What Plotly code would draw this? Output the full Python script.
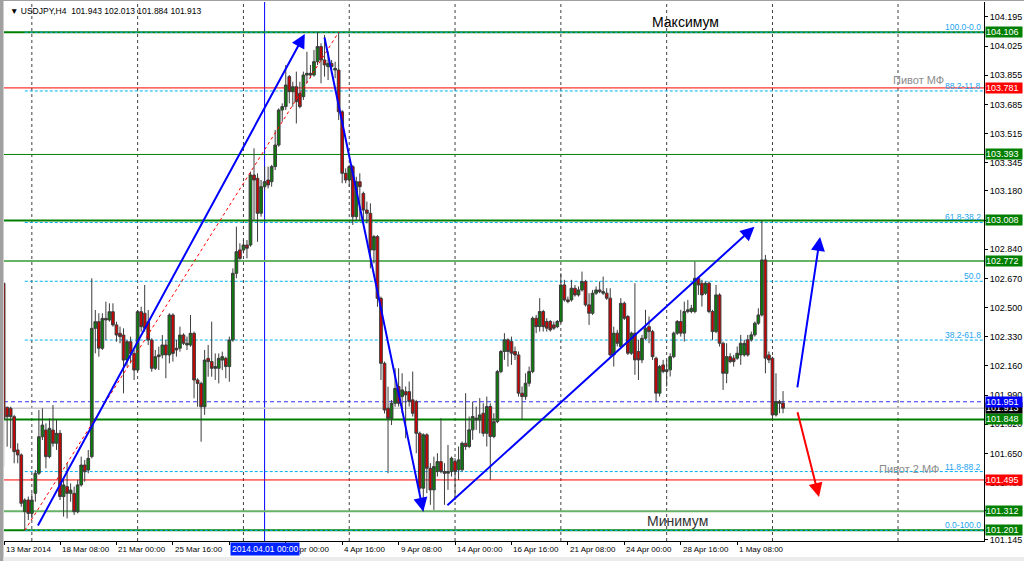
import plotly.graph_objects as go

# ---------------- data (USDJPY, H4 bars) ----------------
opens = [102.642, 101.919, 101.913, 101.864, 101.670, 101.641, 101.310, 101.378, 101.300, 101.417,
         101.534, 101.747, 101.786, 101.631, 101.786, 101.709, 101.767, 101.398, 101.456, 101.417,
         101.417, 101.310, 101.466, 101.582, 101.553, 101.631, 102.379, 102.418, 102.263, 102.437,
         102.428, 102.476, 102.399, 102.350, 102.340, 102.194, 102.301, 102.233, 102.136, 102.476,
         102.467, 102.418, 102.311, 102.146, 102.214, 102.224, 102.282, 102.224, 102.457, 102.263,
         102.263, 102.340, 102.282, 102.282, 102.350, 102.078, 102.058, 101.922, 102.204, 102.185,
         102.146, 102.146, 102.194, 102.204, 102.156, 102.311, 102.700, 102.836, 102.836, 102.865,
         102.865, 103.273, 103.254, 103.050, 103.205, 103.244, 103.234, 103.322, 103.448, 103.652,
         103.672, 103.847, 103.759, 103.788, 103.749, 103.730, 103.856, 103.866, 103.856, 103.934,
         104.022, 103.944, 103.905, 103.924, 103.885, 103.885, 103.642, 103.283, 103.244, 103.322,
         103.030, 103.234, 103.166, 103.069, 103.050, 102.836, 102.914, 102.554, 102.175, 101.913,
         101.854, 101.942, 102.040, 101.981, 102.010, 102.010, 101.962, 101.952, 101.767, 101.447,
         101.758, 101.563, 101.437, 101.544, 101.602, 101.544, 101.534, 101.544, 101.602, 101.554,
         101.554, 101.709, 101.690, 101.787, 101.845, 101.845, 101.884, 101.767, 101.923, 101.748,
         101.835, 102.127, 102.244, 102.312, 102.302, 102.244, 102.224, 102.001, 101.981, 102.059,
         102.127, 102.438, 102.389, 102.477, 102.419, 102.419, 102.399, 102.389, 102.419, 102.632,
         102.545, 102.545, 102.613, 102.574, 102.603, 102.652, 102.516, 102.467, 102.584, 102.603,
         102.584, 102.584, 102.555, 102.224, 102.351, 102.273, 102.525, 102.448, 102.234, 102.351,
         102.244, 102.195, 102.321, 102.389, 102.360, 102.205, 102.001, 102.166, 102.127, 102.137,
         102.214, 102.351, 102.419, 102.351, 102.477, 102.477, 102.477, 102.671, 102.642, 102.584,
         102.642, 102.477, 102.360, 102.574, 102.292, 102.117, 102.214, 102.205, 102.205, 102.224,
         102.224, 102.312, 102.312, 102.341, 102.409, 102.457, 102.778, 102.224, 102.205, 101.874,
         101.952, 101.943]
highs = [102.651, 101.922, 101.922, 101.874, 101.709, 101.650, 101.388, 101.398, 101.417, 101.553,
         101.903, 101.913, 101.825, 101.854, 101.932, 101.845, 101.786, 101.495, 101.592, 101.475,
         101.456, 101.495, 101.631, 101.611, 101.670, 102.671, 102.486, 102.467, 102.467, 102.535,
         102.525, 102.525, 102.418, 102.389, 102.379, 102.311, 102.331, 102.253, 102.486, 102.505,
         102.632, 102.486, 102.321, 102.253, 102.272, 102.340, 102.311, 102.467, 102.467, 102.311,
         102.389, 102.350, 102.331, 102.457, 102.360, 102.088, 102.068, 102.253, 102.282, 102.418,
         102.233, 102.233, 102.243, 102.214, 102.331, 102.729, 102.972, 102.875, 102.894, 102.894,
         103.293, 103.429, 103.283, 103.244, 103.322, 103.322, 103.332, 103.536, 103.662, 103.691,
         103.915, 103.856, 103.817, 103.876, 103.817, 103.876, 103.992, 103.915, 104.002, 104.106,
         104.041, 104.090, 103.992, 103.944, 103.934, 104.106, 103.652, 103.312, 103.332, 103.332,
         103.263, 103.283, 103.176, 103.118, 103.108, 102.923, 102.923, 102.564, 102.185, 102.039,
         101.961, 102.146, 102.146, 102.117, 102.040, 102.069, 102.127, 101.962, 101.777, 101.767,
         101.767, 101.593, 101.631, 101.651, 101.855, 101.593, 101.699, 101.631, 101.622, 101.690,
         101.719, 102.001, 101.865, 101.952, 101.923, 101.972, 101.942, 101.981, 101.942, 101.884,
         102.137, 102.253, 102.351, 102.321, 102.331, 102.273, 102.244, 102.040, 102.117, 102.156,
         102.448, 102.457, 102.555, 102.487, 102.438, 102.428, 102.419, 102.428, 102.700, 102.662,
         102.564, 102.662, 102.632, 102.623, 102.710, 102.662, 102.584, 102.603, 102.623, 102.652,
         102.681, 102.613, 102.613, 102.389, 102.370, 102.555, 102.535, 102.457, 102.360, 102.642,
         102.312, 102.341, 102.487, 102.448, 102.370, 102.214, 102.166, 102.195, 102.195, 102.234,
         102.360, 102.428, 102.487, 102.535, 102.545, 102.516, 102.768, 102.681, 102.662, 102.652,
         102.652, 102.487, 102.632, 102.584, 102.302, 102.292, 102.234, 102.224, 102.273, 102.341,
         102.312, 102.341, 102.360, 102.419, 102.496, 103.008, 102.807, 102.244, 102.214, 102.117,
         101.962, 102.013]
lows = [101.573, 101.689, 101.679, 101.592, 101.592, 101.339, 101.201, 101.262, 101.271, 101.368,
        101.524, 101.728, 101.563, 101.621, 101.689, 101.670, 101.378, 101.281, 101.271, 101.368,
        101.291, 101.300, 101.456, 101.485, 101.534, 101.621, 102.233, 102.214, 102.253, 102.311,
        102.418, 102.389, 102.301, 102.292, 102.000, 102.156, 102.175, 102.078, 102.126, 102.360,
        102.360, 102.282, 102.126, 102.136, 102.136, 102.204, 102.088, 102.175, 102.185, 102.214,
        102.243, 102.282, 102.253, 102.272, 101.971, 101.922, 101.718, 101.874, 102.097, 102.097,
        102.078, 102.058, 102.136, 102.088, 102.068, 102.301, 102.671, 102.778, 102.816, 102.787,
        102.855, 103.011, 102.884, 103.030, 103.186, 103.195, 103.205, 103.302, 103.438, 103.584,
        103.652, 103.691, 103.672, 103.574, 103.662, 103.711, 103.808, 103.837, 103.847, 103.915,
        103.808, 103.847, 103.827, 103.885, 103.837, 103.594, 103.225, 103.225, 103.205, 102.982,
        103.011, 103.011, 103.011, 102.991, 102.729, 102.758, 102.505, 102.078, 101.883, 101.534,
        101.815, 101.922, 101.923, 101.884, 101.738, 101.923, 101.865, 101.651, 101.418, 101.312,
        101.418, 101.350, 101.320, 101.515, 101.534, 101.350, 101.437, 101.515, 101.379, 101.495,
        101.544, 101.670, 101.680, 101.729, 101.787, 101.767, 101.748, 101.690, 101.495, 101.738,
        101.826, 102.117, 102.195, 102.156, 102.166, 102.195, 101.981, 101.845, 101.962, 102.040,
        102.117, 102.351, 102.360, 102.360, 102.360, 102.360, 102.370, 102.380, 102.409, 102.535,
        102.525, 102.535, 102.564, 102.564, 102.593, 102.506, 102.399, 102.457, 102.574, 102.584,
        102.574, 102.545, 102.214, 102.156, 102.273, 102.263, 102.428, 102.224, 102.224, 102.108,
        102.078, 102.176, 102.312, 102.292, 102.195, 101.952, 101.981, 102.117, 102.040, 102.098,
        102.205, 102.341, 102.331, 102.302, 102.467, 102.467, 102.467, 102.574, 102.506, 102.574,
        102.467, 102.312, 102.351, 102.273, 102.020, 102.059, 102.176, 102.156, 102.195, 102.166,
        102.214, 102.214, 102.302, 102.331, 102.399, 102.448, 102.117, 102.176, 101.845, 101.865,
        101.884, 101.884]
closes = [101.854, 101.864, 101.864, 101.660, 101.641, 101.359, 101.378, 101.300, 101.378, 101.534,
          101.747, 101.815, 101.631, 101.796, 101.709, 101.767, 101.398, 101.466, 101.417, 101.436,
          101.310, 101.466, 101.582, 101.543, 101.621, 102.379, 102.418, 102.263, 102.437, 102.428,
          102.476, 102.399, 102.340, 102.331, 102.194, 102.301, 102.233, 102.136, 102.476, 102.389,
          102.379, 102.311, 102.146, 102.214, 102.224, 102.282, 102.224, 102.457, 102.233, 102.253,
          102.340, 102.292, 102.292, 102.350, 102.078, 102.058, 101.922, 102.194, 102.185, 102.146,
          102.156, 102.204, 102.214, 102.156, 102.311, 102.700, 102.826, 102.787, 102.865, 102.846,
          103.273, 103.244, 103.050, 103.205, 103.234, 103.215, 103.322, 103.448, 103.652, 103.672,
          103.798, 103.759, 103.788, 103.701, 103.672, 103.856, 103.866, 103.856, 103.934, 104.022,
          103.944, 103.915, 103.924, 103.905, 103.895, 103.642, 103.283, 103.244, 103.322, 103.030,
          103.234, 103.205, 103.069, 103.050, 102.836, 102.914, 102.554, 102.175, 101.903, 101.854,
          101.942, 102.029, 101.942, 102.020, 101.991, 101.952, 101.884, 101.767, 101.447, 101.758,
          101.563, 101.437, 101.573, 101.602, 101.544, 101.534, 101.544, 101.622, 101.544, 101.612,
          101.709, 101.690, 101.787, 101.865, 101.855, 101.874, 101.767, 101.923, 101.748, 101.835,
          102.127, 102.244, 102.312, 102.244, 102.234, 102.224, 102.001, 101.981, 102.059, 102.127,
          102.438, 102.389, 102.477, 102.389, 102.380, 102.370, 102.380, 102.419, 102.632, 102.545,
          102.535, 102.613, 102.574, 102.603, 102.652, 102.516, 102.467, 102.584, 102.603, 102.593,
          102.593, 102.555, 102.224, 102.351, 102.292, 102.525, 102.438, 102.234, 102.351, 102.195,
          102.195, 102.321, 102.380, 102.360, 102.214, 102.001, 102.156, 102.127, 102.137, 102.214,
          102.351, 102.419, 102.351, 102.477, 102.487, 102.496, 102.671, 102.632, 102.574, 102.642,
          102.477, 102.360, 102.574, 102.292, 102.117, 102.214, 102.185, 102.185, 102.234, 102.292,
          102.292, 102.224, 102.341, 102.409, 102.457, 102.778, 102.205, 102.195, 101.874, 101.952,
          101.942, 101.913]

# time-axis labels (bar index -> text)
time_label_bars = [0.2, 16, 32, 48, 64, 80, 96, 112, 128, 144, 160, 176, 192, 208]
time_labels = ["13 Mar 2014", "18 Mar 08:00", "21 Mar 00:00", "25 Mar 16:00", "28 Mar 08:00",
               "2 Apr 00:00", "4 Apr 16:00", "9 Apr 08:00", "14 Apr 00:00", "16 Apr 16:00",
               "21 Apr 08:00", "24 Apr 00:00", "28 Apr 16:00", "1 May 08:00"]
grid_bars = [8, 38, 68, 98, 128, 158, 188, 218, 253.6]
selected_bar = 74
selected_label = "2014.04.01 00:00"

# price-axis labels
price_ticks = ["104.195", "104.025", "103.855", "103.685", "103.515", "103.345", "103.180",
               "103.010", "102.840", "102.670", "102.500", "102.330", "102.160", "101.990",
               "101.820", "101.650", "101.480", "101.315", "101.145"]

# horizontal level lines
levels_green_thick = [104.106, 103.008, 101.848, 101.201]
levels_green_thin = [103.393]
levels_green_light = [102.772, 101.312]
levels_red = [103.781, 101.495]
level_blue_dashed = 101.951
bid_price = 101.913

# fibonacci retracement (low bar / high bar)
fib_low_bar, fib_low = 6, 101.201
fib_high_bar, fib_high = 95, 104.106
fib_ratios = [0.0, 0.118, 0.382, 0.5, 0.618, 0.882, 1.0]
fib_texts = ["0.0-100.0", "11.8-88.2", "38.2-61.8", "50.0", "61.8-38.2", "88.2-11.8", "100.0-0.0"]

# trend arrows: (tail bar, tail price, tip bar, tip price, colour)
arrows = [
    (9.5, 101.221, 85.4, 104.096, "#0000ff"),
    (90.9, 104.084, 119.0, 101.310, "#0000ff"),
    (125.4, 101.339, 212.9, 102.972, "#0000ff"),
    (225.0, 102.026, 231.5, 102.912, "#0000ff"),
    (225.0, 101.898, 231.2, 101.396, "#ff0000"),
]

# text labels: (bar, price, text, size, colour)
texts = [
    (193.2, 104.166, "Максимум", 14, "#000000"),
    (191.1, 101.256, "Минимум", 14, "#333333"),
    (259.3, 103.828, "Пивот МФ", 11, "#8c8c8c"),
    (256.7, 101.559, "Пивот 2 МФ", 11, "#8c8c8c"),
]

# right-hand price boxes (price, background)
price_boxes = [(104.106, "#008000"), (103.781, "#ff0000"), (103.393, "#008000"),
               (103.008, "#008000"), (102.772, "#008000"), (101.848, "#008000"),
               (101.495, "#ff0000"), (101.312, "#008000"), (101.201, "#008000"),
               (101.913, "#000000"), (101.951, "#0000ff")]

header = "USDJPY,H4  101.943 102.013 101.884 101.913"

# ---------------- figure ----------------
FONT = "Liberation Sans, Arial, sans-serif"
bars = list(range(len(opens)))

fig = go.Figure()
fig.add_trace(go.Candlestick(
    x=bars, open=opens, high=highs, low=lows, close=closes,
    increasing=dict(fillcolor="#0a7d0a", line=dict(color="#3c3c3c", width=1)),
    decreasing=dict(fillcolor="#d00000", line=dict(color="#3c3c3c", width=1)),
    whiskerwidth=0, showlegend=False, hoverinfo="skip"))

shapes = []
# grid
for gb in grid_bars:
    shapes.append(dict(type="line", xref="x", yref="paper", x0=gb, x1=gb, y0=0, y1=1,
                       line=dict(color="#404040", width=1, dash="dot"), layer="below"))
# vertical line at selected time
shapes.append(dict(type="line", xref="x", yref="paper", x0=selected_bar, x1=selected_bar,
                   y0=0, y1=1, line=dict(color="#0000ff", width=1), layer="below"))
# fibonacci levels
for r in fib_ratios:
    lv = fib_low + r * (fib_high - fib_low)
    shapes.append(dict(type="line", xref="x", yref="y", x0=fib_low_bar, x1=400, y0=lv, y1=lv,
                       line=dict(color="#00b0f0", width=1, dash="3px,2px"), layer="below"))
for lv in levels_green_thick:
    shapes.append(dict(type="line", xref="paper", yref="y", x0=0, x1=1, y0=lv, y1=lv,
                       line=dict(color="#008000", width=2), layer="below"))
for lv in levels_green_thin:
    shapes.append(dict(type="line", xref="paper", yref="y", x0=0, x1=1, y0=lv, y1=lv,
                       line=dict(color="#008000", width=1), layer="below"))
for lv in levels_green_light:
    shapes.append(dict(type="line", xref="paper", yref="y", x0=0, x1=1, y0=lv, y1=lv,
                       line=dict(color="#66b266", width=2), layer="below"))
for lv in levels_red:
    shapes.append(dict(type="line", xref="paper", yref="y", x0=0, x1=1, y0=lv, y1=lv,
                       line=dict(color="#ff0000", width=1), layer="below"))
shapes.append(dict(type="line", xref="paper", yref="y", x0=0, x1=1, y0=level_blue_dashed,
                   y1=level_blue_dashed, line=dict(color="#3030ff", width=1, dash="4px,3px"),
                   layer="below"))
shapes.append(dict(type="line", xref="paper", yref="y", x0=0, x1=1, y0=bid_price, y1=bid_price,
                   line=dict(color="#c8c8c8", width=1.5), layer="below"))
# fib diagonal
shapes.append(dict(type="line", xref="x", yref="y", x0=fib_low_bar, y0=fib_low,
                   x1=fib_high_bar, y1=fib_high, line=dict(color="#ff0000", width=1, dash="dot"),
                   layer="above"))
# window borders
shapes.append(dict(type="rect", xref="paper", yref="paper", x0=-4 / 980, x1=-0.5 / 980,
                   y0=-20 / 539, y1=1 + 2 / 539, fillcolor="#a0a0a0", line=dict(width=0)))
shapes.append(dict(type="line", xref="paper", yref="paper", x0=-4 / 980, x1=1 + 40 / 980,
                   y0=1 + 1.5 / 539, y1=1 + 1.5 / 539, line=dict(color="#a0a0a0", width=1)))
shapes.append(dict(type="rect", xref="paper", yref="paper", x0=-0.5 / 980, x1=1 + 40 / 980,
                   y0=-20 / 539, y1=-16 / 539, fillcolor="#ececec", line=dict(width=0)))

annotations = []
# header
annotations.append(dict(xref="paper", yref="paper", x=4 / 980, y=1 - 9 / 539, xanchor="left",
                        yanchor="middle", showarrow=False, text="▼ " + header,
                        font=dict(family=FONT, size=8.5, color="#000000")))
# time labels
for b, t in zip(time_label_bars, time_labels):
    annotations.append(dict(xref="x", yref="paper", x=b, y=-8 / 539, xanchor="left",
                            yanchor="middle", xshift=0, showarrow=False, text=t,
                            font=dict(family=FONT, size=8, color="#000000")))
annotations.append(dict(xref="x", yref="paper", x=selected_bar, y=-8 / 539, xanchor="center",
                        yanchor="middle", showarrow=False, text=selected_label,
                        bgcolor="#0022ff", borderpad=1,
                        font=dict(family=FONT, size=8.5, color="#ffffff")))
# fib labels
for r, t in zip(fib_ratios, fib_texts):
    lv = fib_low + r * (fib_high - fib_low)
    annotations.append(dict(xref="paper", yref="y", x=1, y=lv, xanchor="right", yanchor="bottom",
                            xshift=-1, yshift=-2, showarrow=False, text=t,
                            font=dict(family=FONT, size=8.5, color="#1ca4f0")))
# free texts
for b, p, t, s, c in texts:
    annotations.append(dict(xref="x", yref="y", x=b, y=p, xanchor="center", yanchor="middle",
                            showarrow=False, text=t, font=dict(family=FONT, size=s, color=c)))
# arrows
for tb, tp, hb, hp, col in arrows:
    annotations.append(dict(xref="x", yref="y", axref="x", ayref="y", x=hb, y=hp, ax=tb, ay=tp,
                            text="", showarrow=True, arrowhead=2, arrowsize=1.4, arrowwidth=2,
                            arrowcolor=col, standoff=0, startstandoff=0))
# price boxes
for p, bg in price_boxes:
    annotations.append(dict(xref="paper", yref="y", x=1, y=p, xanchor="left", yanchor="middle",
                            xshift=1, showarrow=False, text=f"{p:.3f}", bgcolor=bg, borderpad=0,
                            width=36, height=10, align="left",
                            font=dict(family=FONT, size=9, color="#ffffff")))

fig.update_layout(
    width=1024, height=561,
    margin=dict(l=4, r=40, t=2, b=20),
    paper_bgcolor="white", plot_bgcolor="white",
    boxgap=0.15, boxgroupgap=0.1,
    showlegend=False,
    shapes=shapes, annotations=annotations,
    xaxis=dict(range=[0.11, 277.98], showgrid=False, zeroline=False,
               rangeslider=dict(visible=False), showline=True, linecolor="#000000",
               linewidth=1, ticks="outside", ticklen=3, tickcolor="#000000",
               tickvals=time_label_bars, showticklabels=False, fixedrange=True),
    yaxis=dict(side="right", range=[101.139, 104.282], showgrid=False, zeroline=False,
               showline=True, linecolor="#000000", linewidth=1, ticks="outside", ticklen=3,
               tickcolor="#000000", tickvals=[float(v) for v in price_ticks], ticktext=price_ticks,
               tickfont=dict(family=FONT, size=9, color="#000000"), fixedrange=True),
)

fig.write_html("out.html", config={"displayModeBar": False},
               post_script="document.body.style.margin='0';document.body.style.overflow='hidden';")
